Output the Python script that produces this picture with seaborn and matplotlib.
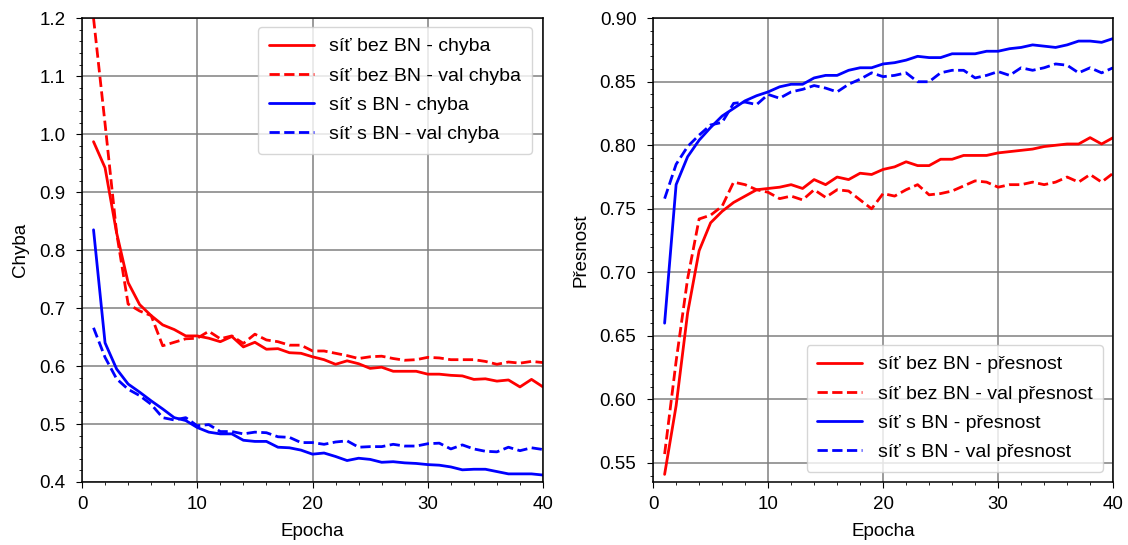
import matplotlib
matplotlib.use("Agg")
import matplotlib.pyplot as plt
from matplotlib.ticker import MultipleLocator
import seaborn as sns

epochs = list(range(1, 41))

# chyba (loss)
loss_bez_bn = [0.987, 0.942, 0.830, 0.744, 0.706, 0.687, 0.671, 0.663, 0.652, 0.652,
               0.648, 0.642, 0.651, 0.633, 0.641, 0.629, 0.630, 0.623, 0.622, 0.616,
               0.611, 0.603, 0.609, 0.604, 0.596, 0.598, 0.591, 0.591, 0.591, 0.586,
               0.586, 0.584, 0.583, 0.577, 0.578, 0.574, 0.576, 0.564, 0.577, 0.564]
val_loss_bez_bn = [1.200, 1.018, 0.830, 0.707, 0.695, 0.687, 0.635, 0.641, 0.647, 0.648,
                   0.660, 0.647, 0.652, 0.639, 0.655, 0.645, 0.642, 0.636, 0.636, 0.626,
                   0.626, 0.622, 0.618, 0.613, 0.616, 0.617, 0.613, 0.610, 0.611, 0.615,
                   0.614, 0.611, 0.611, 0.611, 0.608, 0.603, 0.607, 0.605, 0.608, 0.606]
loss_s_bn = [0.835, 0.640, 0.595, 0.569, 0.555, 0.540, 0.526, 0.511, 0.506, 0.494,
             0.486, 0.483, 0.483, 0.472, 0.470, 0.470, 0.460, 0.459, 0.455, 0.448,
             0.450, 0.444, 0.437, 0.441, 0.439, 0.434, 0.435, 0.433, 0.432, 0.430,
             0.429, 0.426, 0.421, 0.422, 0.422, 0.418, 0.414, 0.414, 0.414, 0.412]
val_loss_s_bn = [0.666, 0.615, 0.578, 0.560, 0.549, 0.534, 0.511, 0.507, 0.511, 0.497,
                 0.499, 0.487, 0.487, 0.483, 0.486, 0.485, 0.478, 0.477, 0.468, 0.468,
                 0.465, 0.469, 0.471, 0.460, 0.461, 0.461, 0.465, 0.462, 0.462, 0.466,
                 0.467, 0.457, 0.464, 0.457, 0.453, 0.452, 0.460, 0.454, 0.459, 0.456]

# presnost (accuracy)
acc_bez_bn = [0.541, 0.595, 0.668, 0.717, 0.739, 0.748, 0.755, 0.760, 0.765, 0.766,
              0.767, 0.769, 0.766, 0.773, 0.769, 0.775, 0.773, 0.778, 0.777, 0.781,
              0.783, 0.787, 0.784, 0.784, 0.789, 0.789, 0.792, 0.792, 0.792, 0.794,
              0.795, 0.796, 0.797, 0.799, 0.800, 0.801, 0.801, 0.806, 0.801, 0.806]
val_acc_bez_bn = [0.557, 0.630, 0.695, 0.742, 0.745, 0.752, 0.771, 0.769, 0.765, 0.763,
                  0.758, 0.760, 0.757, 0.765, 0.759, 0.765, 0.764, 0.757, 0.750, 0.762,
                  0.760, 0.765, 0.769, 0.761, 0.762, 0.764, 0.768, 0.772, 0.771, 0.767,
                  0.769, 0.769, 0.771, 0.769, 0.771, 0.775, 0.771, 0.777, 0.771, 0.778]
acc_s_bn = [0.660, 0.769, 0.791, 0.804, 0.814, 0.823, 0.829, 0.835, 0.839, 0.842,
            0.846, 0.848, 0.848, 0.853, 0.855, 0.855, 0.859, 0.861, 0.861, 0.864,
            0.865, 0.867, 0.870, 0.869, 0.869, 0.872, 0.872, 0.872, 0.874, 0.874,
            0.876, 0.877, 0.879, 0.878, 0.877, 0.879, 0.882, 0.882, 0.881, 0.884]
val_acc_s_bn = [0.758, 0.785, 0.799, 0.808, 0.816, 0.818, 0.833, 0.834, 0.832, 0.840,
                0.837, 0.842, 0.844, 0.847, 0.845, 0.842, 0.848, 0.852, 0.857, 0.854,
                0.855, 0.857, 0.850, 0.850, 0.857, 0.859, 0.859, 0.853, 0.855, 0.858,
                0.855, 0.861, 0.859, 0.861, 0.864, 0.863, 0.857, 0.861, 0.857, 0.861]

loss_labels = ["síť bez BN - chyba", "síť bez BN - val chyba",
               "síť s BN - chyba", "síť s BN - val chyba"]
acc_labels = ["síť bez BN - přesnost", "síť bez BN - val přesnost",
              "síť s BN - přesnost", "síť s BN - val přesnost"]

sns.set_style("ticks")
plt.rcParams["font.family"] = ["Liberation Sans", "DejaVu Sans"]
plt.rcParams["font.size"] = 13.5
plt.rcParams["axes.linewidth"] = 1.1
plt.rcParams["xtick.major.size"] = 4
plt.rcParams["ytick.major.size"] = 4
plt.rcParams["xtick.minor.size"] = 2.2
plt.rcParams["ytick.minor.size"] = 2.2
plt.rcParams["xtick.major.pad"] = 6
plt.rcParams["ytick.major.pad"] = 8
plt.rcParams["xtick.color"] = "black"
plt.rcParams["ytick.color"] = "black"
plt.rcParams["text.color"] = "black"
plt.rcParams["axes.labelcolor"] = "black"

fig = plt.figure(figsize=(11.28, 5.45), dpi=100)
ax1 = fig.add_axes([0.0727, 0.1156, 0.4087, 0.851])
ax2 = fig.add_axes([0.579, 0.1156, 0.4078, 0.851])

styles = [("red", "-"), ("red", "--"), ("blue", "-"), ("blue", "--")]

def draw(ax, series, labels):
    for vals, lab, (col, ls) in zip(series, labels, styles):
        sns.lineplot(x=epochs, y=vals, ax=ax, color=col, linestyle=ls,
                     linewidth=2, label=lab)
    ax.set_xlim(0, 40)
    ax.xaxis.set_major_locator(MultipleLocator(10))
    ax.xaxis.set_minor_locator(MultipleLocator(2))
    ax.grid(True, which="major", color="#808080", linewidth=1.1)
    ax.set_axisbelow(True)
    ax.set_xlabel("Epocha", labelpad=7)
    for sp in ax.spines.values():
        sp.set_color("black")

legend_kw = dict(handlelength=2.3, handletextpad=0.8, borderaxespad=0,
                 borderpad=0.55, labelspacing=0.6, fontsize=14)

draw(ax1, [loss_bez_bn, val_loss_bez_bn, loss_s_bn, val_loss_s_bn], loss_labels)
ax1.set_ylim(0.4, 1.2)
ax1.yaxis.set_major_locator(MultipleLocator(0.1))
ax1.yaxis.set_minor_locator(MultipleLocator(0.02))
ax1.yaxis.set_major_formatter(plt.FormatStrFormatter("%.1f"))
ax1.set_ylabel("Chyba", labelpad=7)
ax1.legend(loc="upper right", bbox_to_anchor=(0.976, 0.981), **legend_kw)

draw(ax2, [acc_bez_bn, val_acc_bez_bn, acc_s_bn, val_acc_s_bn], acc_labels)
ax2.set_ylim(0.535, 0.9)
ax2.yaxis.set_major_locator(MultipleLocator(0.05))
ax2.yaxis.set_minor_locator(MultipleLocator(0.01))
ax2.yaxis.set_major_formatter(plt.FormatStrFormatter("%.2f"))
ax2.set_ylabel("Přesnost", labelpad=7)
ax2.legend(loc="lower right", bbox_to_anchor=(0.978, 0.0216), **legend_kw)

fig.savefig("out.png", dpi=100)
